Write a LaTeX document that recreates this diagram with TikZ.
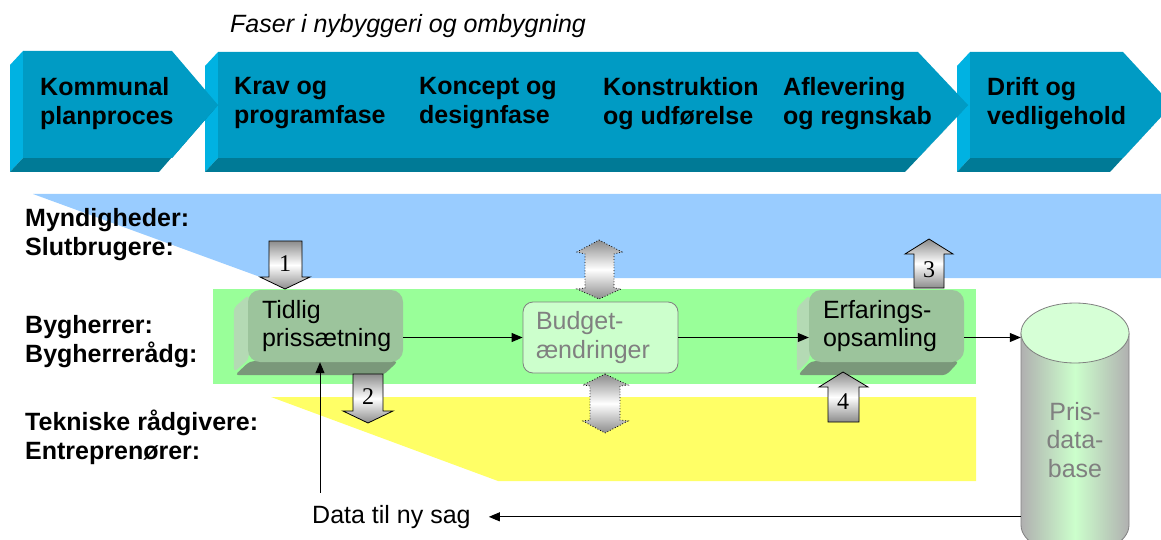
\documentclass[tikz,border=0pt]{standalone}
\usepackage{fontspec}
\setmainfont{Liberation Sans}
\newfontfamily\numfont{Liberation Serif}
\usetikzlibrary{arrows.meta}

\definecolor{chevfront}{RGB}{0,155,196}
\definecolor{chevside}{RGB}{0,178,226}
\definecolor{chevbottom}{RGB}{0,122,150}
\definecolor{laneblue}{RGB}{153,204,255}
\definecolor{lanegreen}{RGB}{153,255,153}
\definecolor{laneyellow}{RGB}{255,255,102}
\definecolor{boxfront}{RGB}{156,196,156}
\definecolor{boxside}{RGB}{180,218,180}
\definecolor{boxbottom}{RGB}{122,152,122}
\definecolor{budgetfill}{RGB}{204,255,204}
\definecolor{softgray}{RGB}{128,128,128}
\definecolor{cylgray}{RGB}{176,176,176}
\definecolor{cylgreen}{RGB}{204,255,204}
\definecolor{cyltop}{RGB}{214,255,214}
\definecolor{arrgray}{RGB}{140,140,140}

\pgfdeclarelayer{lanes}
\pgfdeclarelayer{solids}
\pgfsetlayers{lanes,solids,main}

\tikzset{
  txt/.style={font=\fontsize{25}{28.7}\selectfont},
  phase/.style={anchor=north west, inner sep=0pt, align=left,
    font=\bfseries\fontsize{25}{28.7}\selectfont},
  box3d/.style={rectangle, rounded corners=12pt, fill=boxfront,
    minimum width=155pt, minimum height=72pt, inner xsep=14pt, inner ysep=0pt,
    text width=127pt, align=left, txt},
  budgetbox/.style={rectangle, rounded corners=10pt, fill=budgetfill,
    draw=softgray, line width=0.8pt, text=softgray,
    minimum width=155pt, minimum height=71pt, inner xsep=13pt, inner ysep=0pt,
    text width=129pt, align=left, txt},
  conn/.style={line width=1pt, -{Triangle[length=11pt,width=9pt]}},
  blockarrow/.style={draw=black, line width=0.8pt,
    top color=arrgray, bottom color=arrgray, middle color=white},
  twoway/.style={draw=black, dotted, line width=0.8pt,
    top color=arrgray, bottom color=arrgray, middle color=white},
  numlabel/.style={inner sep=0pt, font=\numfont\fontsize{24}{24}\selectfont},
}

% side and bottom faces of an extruded rounded box; #2,#3 = extrusion offset
\newcommand\solidsides[3]{%
  \fill[boxside, rounded corners=4pt]
    ([shift={(1,5)}]#1.north west) -- ([shift={(#2+1,#3+5)}]#1.north west)
    -- ([shift={(#2+1,#3-3)}]#1.south west) -- ([shift={(1,-3)}]#1.south west) -- cycle;
  \fill[boxbottom, rounded corners=4pt]
    ([shift={(2,-1)}]#1.south west) -- ([shift={(#2+2,#3)}]#1.south west)
    -- ([shift={(#2-5,#3)}]#1.south east) -- ([shift={(-5,-1)}]#1.south east) -- cycle;
}

\begin{document}
\begin{tikzpicture}[x=1pt, y=-1pt]
\useasboundingbox (0,0) rectangle (1161,540);

% ---- phase banner (drawn right to left so each tip overlaps the next block)
\fill[chevside]   (970,52) -- (957,66) -- (957,172) -- (970,158) -- cycle;
\fill[chevbottom] (970,158) -- (957,172) -- (1110,172) -- (1159,119) -- (1172,105) -- (1123,158) -- cycle;
\fill[chevfront]  (970,52) -- (1123,52) -- (1172,105) -- (1123,158) -- (970,158) -- cycle;

\fill[chevside]   (218,52) -- (205,66) -- (205,172) -- (218,158) -- cycle;
\fill[chevbottom] (218,158) -- (205,172) -- (905,172) -- (955,119) -- (968,105) -- (918,158) -- cycle;
\fill[chevfront]  (218,52) -- (918,52) -- (968,105) -- (918,158) -- (218,158) -- cycle;

\fill[chevside]   (23,51) -- (10,65) -- (10,172) -- (23,158) -- cycle;
\fill[chevbottom] (23,158) -- (10,172) -- (159,172) -- (205,119) -- (218,105) -- (172,158) -- cycle;
\fill[chevfront]  (23,51) -- (172,51) -- (218,105) -- (172,158) -- (23,158) -- cycle;

\node[anchor=base west, inner sep=0pt, font=\itshape\fontsize{25}{28.7}\selectfont]
  (title) at (230,32.7) {Faser i nybyggeri og ombygning};

\node[phase] (p1) at (40,77.1)  {Kommunal\\planproces};
\node[phase] (p2) at (234,77.1) {Krav og\\programfase};
\node[phase] (p3) at (419,77.1) {Koncept og\\designfase};
\node[phase] (p4) at (603,77.1) {Konstruktion\\og udførelse};
\node[phase] (p5) at (783,77.1) {Aflevering\\og regnskab};
\node[phase] (p6) at (987,77.1) {Drift og\\vedligehold};

% ---- swim lanes
\begin{pgfonlayer}{lanes}
  \fill[laneblue]   (33,194) -- (1161,194) -- (1161,278) -- (263,278) -- cycle;
  \fill[lanegreen]  (213,289) rectangle (976,384);
  \fill[laneyellow] (271,397) -- (976,397) -- (976,481) -- (498,481) -- cycle;
\end{pgfonlayer}

\node[phase] (l1) at (25,208.1) {Myndigheder:\\Slutbrugere:};
\node[phase] (l2) at (25,315.1) {Bygherrer:\\Bygherrerådg:};
\node[phase] (l3) at (25,410.1) {Tekniske rådgivere:\\Entreprenører:};

% ---- process boxes
\node[box3d] (tidlig) at (325.5,326) {Tidlig\\prissætning};
\node[budgetbox] (budget) at (600.5,337.5) {Budget-\\ændringer};
\node[box3d] (erfar) at (886.5,326) {Erfarings-\\opsamling};

\begin{pgfonlayer}{solids}
  \solidsides{tidlig}{-15}{13}
  \solidsides{erfar}{-13}{13}
\end{pgfonlayer}

% ---- price database cylinder
\path[draw=softgray, line width=0.8pt, left color=cylgray, right color=cylgray, middle color=cylgreen]
  (1021,333) -- (1021,525) arc[start angle=180, end angle=360, x radius=54pt, y radius=30pt]
  -- (1129,333) -- cycle;
\draw[softgray, line width=0.8pt, fill=cyltop] (1075,333) ellipse [x radius=54pt, y radius=30pt];
\node[inner sep=0pt, minimum width=108pt, align=center, text=softgray, txt] (db) at (1075,440)
  {Pris-\\data-\\base};

\node[anchor=base west, inner xsep=18pt, inner ysep=12pt, txt] (data) at (294,523.3) {Data til ny sag};

% ---- flow connectors
\draw[conn] (tidlig.east |- budget.west) -- (budget.west);
\draw[conn] (budget.east) -- (erfar.west |- budget.east);
\draw[conn] (erfar.east |- budget.east) -- (db.west |- budget.east);
\draw[conn] (db.west |- data.east) -- (data.east);
\coordinate (feed) at ([xshift=-5.5pt]tidlig.south);
\draw[conn] (data.north -| feed) -- (feed);

% ---- numbered exchange arrows
\path[blockarrow] (269,241) -- (302,241) -- (302,277) -- (310,277) -- (285,289) -- (260,277) -- (269,277) -- cycle;
\node[numlabel] (n1) at (285,264) {1};
\path[blockarrow] (353,374) -- (383,374) -- (383,411) -- (393,411) -- (368,423) -- (343,411) -- (353,411) -- cycle;
\node[numlabel] (n2) at (368,396.5) {2};
\path[blockarrow] (929,239) -- (953,254) -- (944,254) -- (944,288) -- (914,288) -- (914,254) -- (905,254) -- cycle;
\node[numlabel] (n3) at (929,269.5) {3};
\path[blockarrow] (843,372) -- (868,387) -- (859,387) -- (859,422) -- (828,422) -- (828,387) -- (819,387) -- cycle;
\node[numlabel] (n4) at (843,401.5) {4};

% ---- two-way arrows around the budget changes
\path[twoway] (599,240) -- (622,252) -- (614,254) -- (614,288) -- (621,289) -- (599,299)
  -- (577,289) -- (585,288) -- (585,254) -- (577,252) -- cycle;
\path[twoway] (605,374) -- (628,385) -- (620,386) -- (620,420) -- (628,421) -- (605,433)
  -- (583,421) -- (590,420) -- (590,386) -- (583,385) -- cycle;

\end{tikzpicture}
\end{document}
